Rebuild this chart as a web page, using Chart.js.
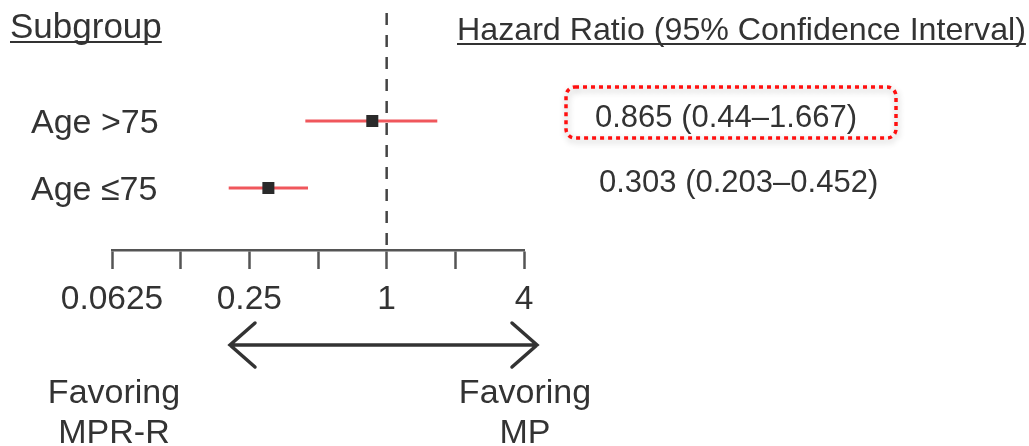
<!DOCTYPE html>
<html>
<head>
<meta charset="utf-8">
<script src="https://cdn.jsdelivr.net/npm/chart.js@4"></script>
<style>
  html, body { margin: 0; padding: 0; background: #fff; }
  #wrap { width: 1029px; height: 446px; }
</style>
</head>
<body>
<div id="wrap"><canvas id="plot"></canvas></div>
<script>
// chart values
const subgroups = ['Age >75', 'Age \u226475'];
const rowPos = [2, 1];
const hazardRatio = [0.865, 0.303];
const ciLow = [0.44, 0.203];
const ciHigh = [1.667, 0.452];
const ciText = ['0.865 (0.44\u20131.667)', '0.303 (0.203\u20130.452)'];
const xTicks = [0.0625, 0.125, 0.25, 0.5, 1, 2, 4];
const xTickLabels = ['0.0625', '', '0.25', '', '1', '', '4'];
const refValue = 1;
const favorLeft = ['Favoring', 'MPR-R'];
const favorRight = ['Favoring', 'MP'];

const FONT = '"Liberation Sans", Arial, Helvetica, sans-serif';
const TEXT = '#333';
const Y_MIN = 0.075, Y_MAX = 3.612;

function underlined(ctx, text, x, y, size) {
  ctx.font = size + 'px ' + FONT;
  ctx.textAlign = 'left';
  ctx.fillText(text, x, y);
  const w = ctx.measureText(text).width;
  ctx.fillRect(x, y + 3, w, 2);
}

function roundRect(ctx, x, y, w, h, r) {
  ctx.beginPath();
  ctx.moveTo(x + r, y);
  ctx.lineTo(x + w - r, y);
  ctx.arcTo(x + w, y, x + w, y + r, r);
  ctx.lineTo(x + w, y + h - r);
  ctx.arcTo(x + w, y + h, x + w - r, y + h, r);
  ctx.lineTo(x + r, y + h);
  ctx.arcTo(x, y + h, x, y + h - r, r);
  ctx.lineTo(x, y + r);
  ctx.arcTo(x, y, x + r, y, r);
  ctx.closePath();
}

const decor = {
  id: 'decor',
  afterDraw(chart) {
    const { ctx, scales: { x, y } } = chart;
    ctx.save();
    ctx.fillStyle = TEXT;
    ctx.textBaseline = 'alphabetic';

    // headers
    underlined(ctx, 'Subgroup', 10, 38, 35);
    underlined(ctx, 'Hazard Ratio (95% Confidence Interval)', 457, 40, 32.2);

    // subgroup names and HR text
    subgroups.forEach((name, i) => {
      const py = y.getPixelForValue(rowPos[i]);
      ctx.font = '34px ' + FONT;
      ctx.textAlign = 'left';
      ctx.fillText(name, 31, py + 12);
      ctx.font = '31px ' + FONT;
      ctx.fillText(ciText[i], i === 0 ? 595 : 599, py + (i === 0 ? 6 : 4));
    });

    // red dotted highlight box round the first HR text
    const by = y.getPixelForValue(rowPos[0]);
    ctx.save();
    ctx.shadowColor = 'rgba(0,0,0,0.3)';
    ctx.shadowBlur = 6;
    ctx.shadowOffsetX = 1;
    ctx.shadowOffsetY = 3;
    ctx.strokeStyle = '#ff1010';
    ctx.lineWidth = 3.5;
    ctx.setLineDash([4, 4]);
    roundRect(ctx, 566, by - 34, 330, 51, 9);
    ctx.stroke();
    ctx.restore();

    // arrow
    const ay = 345, ax1 = 230, ax2 = 537;
    ctx.strokeStyle = '#333';
    ctx.lineWidth = 3.5;
    ctx.lineCap = 'round';
    ctx.beginPath();
    ctx.moveTo(ax1, ay); ctx.lineTo(ax2, ay);
    ctx.moveTo(ax1 + 25, ay - 22); ctx.lineTo(ax1, ay); ctx.lineTo(ax1 + 25, ay + 22);
    ctx.moveTo(ax2 - 25, ay - 22); ctx.lineTo(ax2, ay); ctx.lineTo(ax2 - 25, ay + 22);
    ctx.stroke();

    // favoring labels under the axis ends
    ctx.font = '34px ' + FONT;
    ctx.textAlign = 'center';
    const lx = x.getPixelForValue(xTicks[0]) + 2;
    const rx = x.getPixelForValue(xTicks[xTicks.length - 1]) + 1;
    favorLeft.forEach((t, i) => ctx.fillText(t, lx, 403 + i * 40));
    favorRight.forEach((t, i) => ctx.fillText(t, rx, 403 + i * 40));
    ctx.restore();
  }
};

const datasets = [
  {
    label: 'HR',
    data: hazardRatio.map((v, i) => ({ x: v, y: rowPos[i] })),
    pointStyle: 'rect',
    pointRadius: 8.5,
    backgroundColor: '#2a2a2a',
    borderWidth: 0,
    order: 0
  },
  ...ciLow.map((lo, i) => ({
    label: 'CI ' + subgroups[i],
    data: [{ x: lo, y: rowPos[i] }, { x: ciHigh[i], y: rowPos[i] }],
    showLine: true,
    borderColor: '#f0575c',
    borderWidth: 3,
    pointRadius: 0,
    order: 1
  })),
  {
    label: 'ref',
    data: [{ x: refValue, y: Y_MAX }, { x: refValue, y: Y_MIN }],
    showLine: true,
    borderColor: '#444',
    borderWidth: 2.5,
    borderDash: [12, 10],
    pointRadius: 0,
    order: 2
  }
];

new Chart(document.getElementById('plot'), {
  type: 'scatter',
  data: { datasets },
  options: {
    responsive: true,
    maintainAspectRatio: false,
    animation: false,
    layout: { padding: { left: 112, right: 505, top: 13, bottom: 116 } },
    plugins: { legend: { display: false }, tooltip: { enabled: false } },
    scales: {
      x: {
        type: 'logarithmic',
        min: xTicks[0],
        max: xTicks[xTicks.length - 1],
        afterBuildTicks: (scale) => { scale.ticks = xTicks.map(v => ({ value: v })); },
        afterFit: (scale) => { scale.height = 80; },
        grid: {
          drawOnChartArea: false,
          drawTicks: true,
          tickLength: 19,
          tickColor: '#555',
          tickWidth: 2.5
        },
        border: { display: true, color: '#555', width: 2.5 },
        ticks: {
          autoSkip: false,
          maxRotation: 0,
          padding: 11,
          color: TEXT,
          font: { family: FONT, size: 33.5 },
          callback: (v, i) => xTickLabels[i]
        }
      },
      y: {
        display: false,
        min: Y_MIN,
        max: Y_MAX
      }
    }
  },
  plugins: [decor]
});
</script>
</body>
</html>
